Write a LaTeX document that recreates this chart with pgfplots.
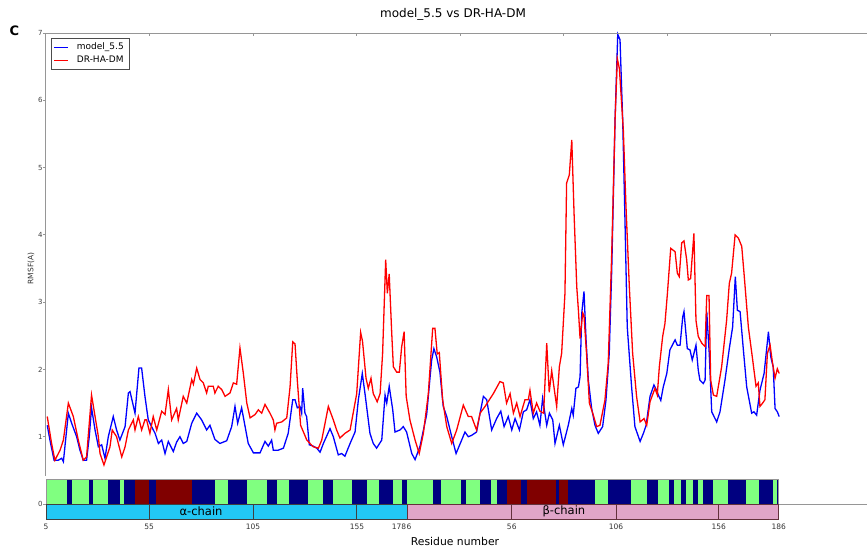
\documentclass[border=0pt]{standalone}
\usepackage{fontspec}
\setmainfont{DejaVu Sans}
\usepackage{pgfplots}
\pgfplotsset{compat=1.18}

\definecolor{ssgreen}{RGB}{128,255,128}
\definecolor{ssnavy}{RGB}{0,0,128}
\definecolor{ssred}{RGB}{128,0,0}
\definecolor{chaincyan}{RGB}{34,200,245}
\definecolor{chainpink}{RGB}{225,165,200}
\definecolor{spine}{RGB}{150,150,150}
\definecolor{betaedge}{RGB}{100,50,60}

\begin{document}
\begin{tikzpicture}
\useasboundingbox (-46pt,-51pt) rectangle (821pt,504pt);
\begin{axis}[
  at={(0pt,0pt)}, anchor=south west,
  scale only axis, width=828pt, height=471pt,
  xmin=0, xmax=400, ymin=0, ymax=7,
  axis line style={draw=none},
  clip=false,
  xtick={50,100,...,350}, xticklabels={}, xtick pos=right,
  ytick={0,...,7}, ytick pos=left,
  tick align=inside, major tick length=3pt,
  tick style={spine, line width=0.8pt},
  ytick style={xshift=-3pt},
  yticklabel style={font=\fontsize{7}{8}\selectfont, text=black!75},
  /pgf/number format/assume math mode=true,
  legend style={at={(0.0057,0.99)}, anchor=north west, draw=black!70,
    font=\fontsize{9}{10}\selectfont, inner xsep=3pt, inner ysep=3pt,
    row sep=1pt, column sep=6pt},
  legend cell align=left,
  legend image code/.code={\draw[#1, line width=1pt] (0pt,0pt) -- (14pt,0pt);},
]
% RMSF per residue (alpha chain 5-178, then beta chain 6-186)
\addplot[blue, line width=1.3pt] coordinates {
(0.6,1.17)(1.9,0.95)(3.9,0.65)(5.9,0.65)(7.6,0.68)(8.4,0.63)(10.8,1.35)(12.4,1.2)(14.8,1.0)(16.4,0.8)(18,0.65)(19.6,0.65)(20.9,1.0)(22,1.43)(23.7,1.1)(25.3,0.85)(26.9,0.88)(28.5,0.68)(30.1,1.0)(32.5,1.30)(34.1,1.1)(35.7,0.95)(38.2,1.15)(39.8,1.65)(40.6,1.67)(43,1.35)(44.9,2.02)(46.2,2.02)(47.8,1.6)(49.4,1.25)(51,1.15)(52.7,1.05)(54.3,0.9)(55.9,0.95)(57.5,0.75)(59.1,0.93)(61.5,0.78)(63.1,0.92)(64.7,1.0)(66.3,0.9)(68,0.93)(70.4,1.2)(72.8,1.35)(75.2,1.25)(77.6,1.1)(79.2,1.17)(81.6,0.96)(84,0.9)(87.3,0.94)(89.7,1.15)(91.3,1.45)(92.6,1.2)(94.5,1.43)(97.7,0.9)(100.2,0.76)(103.4,0.76)(105.8,0.93)(107.4,0.86)(109,0.95)(109.8,0.8)(112.2,0.8)(114.7,0.83)(117,1.05)(119.2,1.55)(120.3,1.55)(121.4,1.43)(122.7,1.45)(123.5,1.35)(124,1.72)(125.1,1.35)(125.9,1.3)(127.2,0.88)(129.1,0.86)(130.8,0.83)(132.4,0.77)(134,0.9)(137.2,1.12)(138.8,1.0)(141.2,0.73)(142.8,0.75)(144.4,0.71)(146.9,0.9)(149.3,1.07)(150.9,1.55)(152.8,1.94)(154.1,1.64)(156.5,1.05)(158.1,0.9)(159.7,0.83)(162.2,0.95)(163.8,1.62)(164.6,1.5)(165.8,1.75)(167.5,1.4)(168.6,1.07)(171,1.1)(172.6,1.15)(174.2,1.07)(176.7,0.75)(178.3,0.66)(180.7,0.86)(183.9,1.33)(186.3,2.14)(187.4,2.31)(188.7,2.19)(190.3,1.96)(191.9,1.45)(193.6,1.3)(196,1.0)(198.1,0.75)(200.8,0.95)(202.4,1.07)(204,1.0)(205.6,1.02)(208,1.07)(209.7,1.35)(211.3,1.6)(212.9,1.55)(215.3,1.1)(217.7,1.27)(219.7,1.38)(221.3,1.15)(223.3,1.3)(225,1.1)(226.6,1.27)(228.7,1.1)(230.6,1.37)(232.2,1.4)(233.8,1.55)(235.4,1.27)(237,1.37)(238.6,1.17)(239.9,1.57)(241.9,1.17)(243.2,1.35)(244.8,1.25)(245.9,0.9)(248,1.17)(249.9,0.88)(252.3,1.17)(254,1.42)(254.7,1.32)(256,1.72)(257.2,1.74)(258,1.89)(258.8,2.83)(259.9,3.16)(260.9,2.44)(262,1.84)(263.6,1.42)(265.2,1.17)(266.8,1.05)(268.9,1.15)(270.5,1.54)(272.1,2.24)(273.3,3.48)(274.9,5.7)(276.2,6.98)(277.3,6.9)(278.6,5.7)(279.7,4.21)(280.8,2.63)(282.9,1.74)(284.5,1.15)(287,0.93)(288.6,1.05)(289.9,1.17)(291.8,1.6)(293.7,1.77)(295,1.69)(295.8,1.62)(297,1.54)(298.2,1.74)(299.9,1.94)(301.4,2.29)(303.9,2.44)(305,2.36)(306.3,2.36)(307.6,2.78)(308.2,2.86)(309.8,2.31)(311.1,2.29)(312.2,2.14)(314,2.36)(315.1,1.99)(315.9,1.84)(317.5,1.79)(318.4,1.84)(319.2,2.86)(320.4,2.24)(321.6,1.37)(324,1.22)(325.6,1.37)(328,1.84)(330.1,2.31)(331.7,2.63)(333,3.38)(334,2.88)(335.3,2.86)(336.9,2.29)(338.5,1.74)(340.9,1.35)(342,1.37)(343.3,1.32)(344.9,1.69)(346.9,1.94)(349,2.56)(350.1,2.19)(351.3,2.04)(352.2,1.42)(353.3,1.37)(354.2,1.3)
};
\addlegendentry{model\_5.5}
\addplot[red, line width=1.3pt] coordinates {
(0.6,1.3)(2.7,0.9)(4.3,0.65)(6.8,0.8)(8.4,0.95)(10.8,1.5)(13.2,1.3)(15.6,0.95)(18,0.65)(19.6,0.7)(22,1.62)(23.7,1.3)(25.3,1.0)(26.1,0.75)(28,0.58)(30.9,0.85)(32,1.1)(34.1,1.0)(36.6,0.7)(38.2,0.85)(39.8,1.1)(42.2,1.25)(43,1.1)(44.6,1.3)(46.2,1.1)(47.8,1.25)(48.6,1.25)(50.2,1.05)(51.8,1.3)(53.5,1.1)(55.9,1.38)(57.5,1.33)(59.1,1.7)(60.7,1.25)(63.1,1.42)(63.9,1.25)(66.3,1.6)(68,1.5)(70.4,1.85)(71.2,1.78)(72.8,2.02)(74.4,1.85)(76,1.8)(77.6,1.65)(78.4,1.75)(80.8,1.75)(81.6,1.65)(83.2,1.75)(84.9,1.7)(86.5,1.6)(88.9,1.65)(90.5,1.8)(92.1,1.78)(93.7,2.32)(95.3,1.95)(97,1.5)(98.6,1.28)(101,1.33)(102.6,1.4)(104.2,1.35)(105.8,1.48)(108.2,1.35)(109.8,1.25)(110.6,1.1)(111.4,1.2)(113.9,1.22)(116.3,1.28)(117.9,1.74)(119.2,2.41)(120.3,2.38)(121.4,1.84)(123,1.17)(126,0.95)(129.1,0.85)(131.6,0.83)(133.2,0.95)(136.4,1.45)(138.8,1.25)(140.4,1.1)(142,0.98)(144.4,1.05)(146.9,1.1)(150.1,1.64)(152,2.55)(152.9,2.42)(154.6,1.87)(155.7,1.72)(157,1.87)(158.1,1.64)(160,1.52)(161.4,1.64)(162.6,2.23)(164.1,3.63)(164.9,3.13)(165.8,3.42)(167,2.55)(167.8,2.04)(169.4,1.96)(170.7,1.96)(171.8,2.33)(173,2.56)(174,1.6)(175.8,1.25)(178.3,0.95)(180.3,0.75)(182.3,1.05)(184.7,1.64)(186.8,2.61)(187.9,2.61)(189,2.23)(190,2.25)(191.6,1.55)(193.6,1.15)(196,0.9)(198.4,1.1)(201.6,1.47)(204,1.3)(205.6,1.3)(208,1.1)(209.7,1.35)(212.1,1.45)(216.1,1.64)(219.3,1.82)(220.9,1.8)(222.5,1.5)(224.2,1.64)(225.8,1.35)(227.4,1.5)(229,1.3)(231.4,1.55)(233,1.55)(233.8,1.69)(235.4,1.35)(237,1.5)(238.6,1.38)(240.4,1.35)(241.9,2.39)(243.1,1.66)(244.3,1.98)(246.7,1.45)(248,2.04)(249.1,2.24)(250.7,3.13)(251.5,4.77)(252.8,4.89)(254,5.41)(255.1,4.32)(256.4,3.23)(257.2,2.88)(258,2.46)(259.3,2.84)(259.9,2.8)(261.2,2.2)(262.5,1.5)(264.4,1.32)(266,1.15)(267.6,1.17)(270,1.54)(271.6,2.09)(273.3,3.73)(274.9,5.7)(276,6.62)(277,6.47)(278.9,5.56)(280.2,4.41)(281.8,3.23)(283.4,2.24)(285.3,1.6)(287,1.22)(288.9,1.27)(290.2,1.17)(291.8,1.52)(294.2,1.72)(295.3,1.62)(296.3,2.04)(297.9,2.49)(299,2.68)(300.2,3.13)(301.8,3.8)(303.9,3.75)(305,3.43)(305.9,3.38)(307.1,3.88)(308.2,3.91)(309.5,3.63)(310.3,3.33)(311.4,3.35)(313,4.02)(314,2.73)(315.1,2.49)(316.8,2.39)(318.4,2.34)(319.2,3.1)(320.3,3.1)(321.1,1.84)(322.4,1.62)(324,1.6)(326.4,2.04)(328.8,2.73)(330.1,3.28)(331.2,3.43)(332.9,4.0)(334.5,3.95)(336.1,3.83)(337.2,3.43)(339.3,2.63)(341.4,2.14)(343,1.75)(344.1,1.8)(344.9,1.45)(346.2,1.5)(347.3,1.55)(348.5,2.24)(349.8,2.36)(351,2.09)(352.2,1.87)(353.3,2.01)(354.2,1.94)
};
\addlegendentry{DR-HA-DM}

% spines: top, left (stopping above the structure strip), bottom right of the strip
\draw[spine, line width=1pt] (axis cs:0,7) -- (axis cs:400,7);
\draw[spine, line width=1pt] (axis cs:0,0.42) -- (axis cs:0,7);
\draw[spine, line width=1pt] (axis cs:354,0) -- (axis cs:400,0);

% secondary-structure strip: navy background, green and dark-red segments
\fill[white] (axis cs:-1.5,0) rectangle (axis cs:354.5,0.42);
\fill[ssnavy] (axis cs:0,0) rectangle (axis cs:354,0.37);
\fill[ssgreen] (axis cs:0.7,0) rectangle (axis cs:10,0.37);
\fill[ssgreen] (axis cs:12.7,0) rectangle (axis cs:20.9,0.37);
\fill[ssgreen] (axis cs:22.9,0) rectangle (axis cs:29.8,0.37);
\fill[ssgreen] (axis cs:35.7,0) rectangle (axis cs:37.8,0.37);
\fill[ssgreen] (axis cs:81.6,0) rectangle (axis cs:87.8,0.37);
\fill[ssgreen] (axis cs:97,0) rectangle (axis cs:106.9,0.37);
\fill[ssgreen] (axis cs:111.7,0) rectangle (axis cs:117.5,0.37);
\fill[ssgreen] (axis cs:126.7,0) rectangle (axis cs:134,0.37);
\fill[ssgreen] (axis cs:138.8,0) rectangle (axis cs:147.7,0.37);
\fill[ssgreen] (axis cs:154.9,0) rectangle (axis cs:160.9,0.37);
\fill[ssgreen] (axis cs:167.8,0) rectangle (axis cs:171.8,0.37);
\fill[ssgreen] (axis cs:174.5,0) rectangle (axis cs:186.8,0.37);
\fill[ssgreen] (axis cs:190.7,0) rectangle (axis cs:200.5,0.37);
\fill[ssgreen] (axis cs:202.8,0) rectangle (axis cs:209.7,0.37);
\fill[ssgreen] (axis cs:214.8,0) rectangle (axis cs:217.7,0.37);
\fill[ssgreen] (axis cs:265.2,0) rectangle (axis cs:271.6,0.37);
\fill[ssgreen] (axis cs:282.5,0) rectangle (axis cs:290.5,0.37);
\fill[ssgreen] (axis cs:295.5,0) rectangle (axis cs:301.1,0.37);
\fill[ssgreen] (axis cs:303.4,0) rectangle (axis cs:306.6,0.37);
\fill[ssgreen] (axis cs:309.2,0) rectangle (axis cs:312.4,0.37);
\fill[ssgreen] (axis cs:315.1,0) rectangle (axis cs:317.5,0.37);
\fill[ssgreen] (axis cs:322.4,0) rectangle (axis cs:329.3,0.37);
\fill[ssgreen] (axis cs:338.2,0) rectangle (axis cs:344.4,0.37);
\fill[ssgreen] (axis cs:351.4,0) rectangle (axis cs:353.3,0.37);
\fill[ssred] (axis cs:43,0) rectangle (axis cs:49.8,0.37);
\fill[ssred] (axis cs:53,0) rectangle (axis cs:70.7,0.37);
\fill[ssred] (axis cs:222.6,0) rectangle (axis cs:229.5,0.37);
\fill[ssred] (axis cs:232.5,0) rectangle (axis cs:246.4,0.37);
\fill[ssred] (axis cs:247.7,0) rectangle (axis cs:252.4,0.37);
\draw[spine, line width=0.8pt] (axis cs:0,0) rectangle (axis cs:354,0.37);

% chain bar
\fill[chaincyan] (axis cs:0,-0.223) rectangle (axis cs:174.5,0);
\fill[chainpink] (axis cs:174.5,-0.223) rectangle (axis cs:354,0);
\draw[black!75, line width=0.7pt] (axis cs:0,-0.223) rectangle (axis cs:174.5,0);
\draw[black!75, line width=0.7pt] (axis cs:50,-0.223) -- (axis cs:50,0);
\draw[black!75, line width=0.7pt] (axis cs:100,-0.223) -- (axis cs:100,0);
\draw[black!75, line width=0.7pt] (axis cs:150,-0.223) -- (axis cs:150,0);
\draw[betaedge, line width=0.7pt] (axis cs:174.5,-0.223) rectangle (axis cs:354,0);
\draw[betaedge, line width=0.7pt] (axis cs:225,-0.223) -- (axis cs:225,0);
\draw[betaedge, line width=0.7pt] (axis cs:275.4,-0.223) -- (axis cs:275.4,0);
\draw[betaedge, line width=0.7pt] (axis cs:325,-0.223) -- (axis cs:325,0);
\node[font=\fontsize{11.5}{13}\selectfont, yshift=-7pt] at (axis cs:74.9,0) {α-chain};
\node[font=\fontsize{11.5}{13}\selectfont, yshift=-7pt] at (axis cs:250.2,0) {β-chain};

% residue numbering under the chain bar
\begin{scope}[every node/.style={font=\fontsize{7.5}{9}\selectfont, text=black!80, yshift=-23pt}]
\node at (axis cs:0,0) {5};
\node at (axis cs:49.8,0) {55};
\node at (axis cs:100,0) {105};
\node at (axis cs:150.2,0) {155};
\node at (axis cs:170.5,0) {178};
\node at (axis cs:175.4,0) {6};
\node at (axis cs:225,0) {56};
\node at (axis cs:275.4,0) {106};
\node at (axis cs:325,0) {156};
\node at (axis cs:354,0) {186};
\end{scope}
\node[rotate=90, font=\fontsize{7.5}{9}\selectfont, text=black!80] at (axis description cs:-0.018,0.5) {RMSF(A)};
\end{axis}
\node[font=\fontsize{12}{14}\selectfont] at (407pt,490pt) {model\_5.5 vs DR-HA-DM};
\node[font=\bfseries\fontsize{13}{15}\selectfont] at (-31.5pt,473pt) {C};
\node[font=\fontsize{10.8}{12}\selectfont] at (409pt,-37pt) {Residue number};
\end{tikzpicture}
\end{document}
